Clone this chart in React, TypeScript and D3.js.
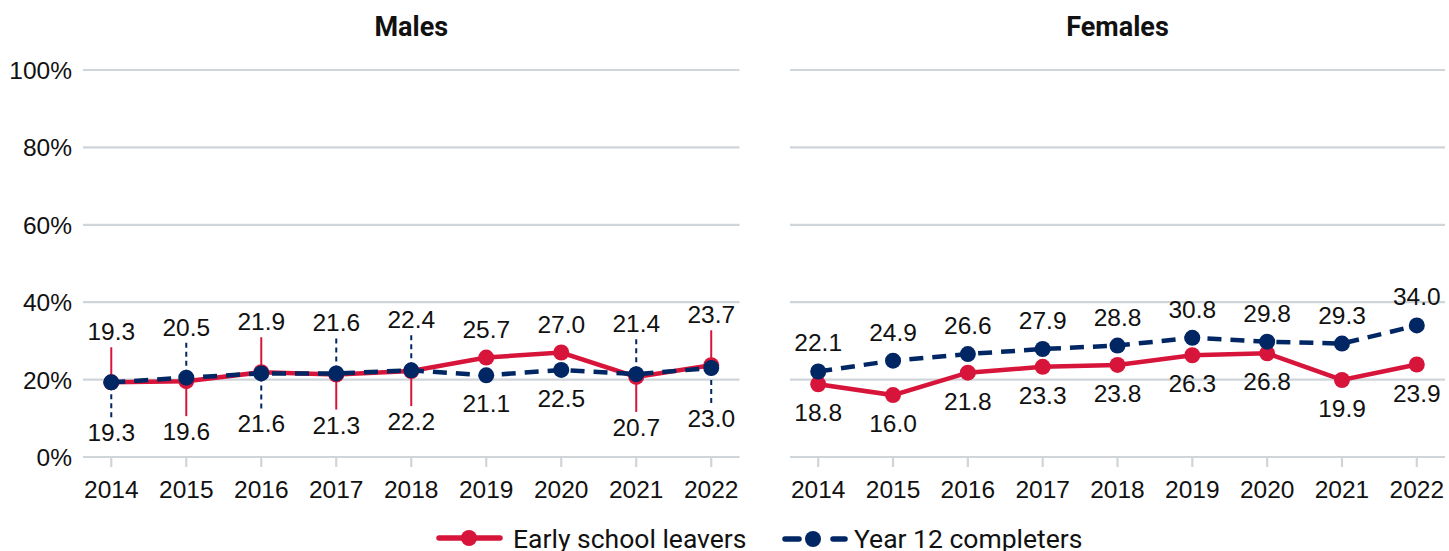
import React from "react";
import * as d3 from "d3";

const years = ["2014", "2015", "2016", "2017", "2018", "2019", "2020", "2021", "2022"];
const maleEarly = [19.3, 19.6, 21.9, 21.3, 22.2, 25.7, 27.0, 20.7, 23.7];
const maleYear12 = [19.3, 20.5, 21.6, 21.6, 22.4, 21.1, 22.5, 21.4, 23.0];
const femaleEarly = [18.8, 16.0, 21.8, 23.3, 23.8, 26.3, 26.8, 19.9, 23.9];
const femaleYear12 = [22.1, 24.9, 26.6, 27.9, 28.8, 30.8, 29.8, 29.3, 34.0];
const yTicks = [0, 20, 40, 60, 80, 100];

const RED = "#d7153a";
const NAVY = "#002664";
const GRID = "#d0d5da";
const TICKFONT = "'Liberation Sans', Arial, sans-serif";
const TITLEFONT = "Roboto, 'Noto Sans', sans-serif";

const W = 1449;
const H = 551;
const TOP = 70;
const BOTTOM = 457;
const FS = 24.5;

const y = d3.scaleLinear().domain([0, 100]).range([BOTTOM, TOP]);

type PanelProps = { title: string; x0: number; x1: number; early: number[]; y12: number[]; showY: boolean };

function Panel({ title, x0, x1, early, y12, showY }: PanelProps) {
  const x = d3.scalePoint<string>().domain(years).range([x0, x1]).padding(0.377);
  const line = d3
    .line<number>()
    .x((_, i) => x(years[i]) as number)
    .y((d) => y(d));

  const labels: React.ReactNode[] = [];
  years.forEach((yr, i) => {
    const e = early[i];
    const b = y12[i];
    const cx = x(yr) as number;
    const redAbove = e >= b;
    const close = Math.abs(e - b) < 2;
    const items = [
      { v: e, color: RED, above: redAbove, dash: undefined as string | undefined },
      { v: b, color: NAVY, above: !redAbove, dash: "5,4" },
    ];
    items.forEach((it, k) => {
      const py = y(it.v);
      const baseline = it.above ? py - (close ? 42 : 20) : py + (close ? 59 : 37);
      if (close) {
        const y1 = it.above ? baseline + 7 : baseline - 24;
        labels.push(
          <line
            key={`l-${yr}-${k}`}
            x1={cx}
            x2={cx}
            y1={y1}
            y2={py}
            stroke={it.color}
            strokeWidth={2}
            strokeDasharray={it.dash}
          />
        );
      }
      labels.push(
        <text
          key={`t-${yr}-${k}`}
          x={cx}
          y={baseline}
          textAnchor="middle"
          fontFamily={TICKFONT}
          fontSize={FS}
          fill="#111"
        >
          {it.v.toFixed(1)}
        </text>
      );
    });
  });

  return (
    <g>
      <text x={(x0 + x1) / 2} y={36} textAnchor="middle" fontFamily={TITLEFONT} fontWeight={700} fontSize={27} fill="#111">
        {title}
      </text>
      {yTicks.map((t) => (
        <g key={t}>
          <line x1={x0} x2={x1} y1={y(t)} y2={y(t)} stroke={GRID} strokeWidth={2.2} />
          {showY && (
            <text x={72} y={y(t) + 9} textAnchor="end" fontFamily={TICKFONT} fontSize={FS} fill="#111">
              {t}%
            </text>
          )}
        </g>
      ))}
      {years.map((yr) => (
        <g key={yr}>
          <line x1={x(yr)} x2={x(yr)} y1={BOTTOM} y2={BOTTOM + 10} stroke={GRID} strokeWidth={2.2} />
          <text x={x(yr)} y={498} textAnchor="middle" fontFamily={TICKFONT} fontSize={FS} fill="#111">
            {yr}
          </text>
        </g>
      ))}
      {labels}
      <path d={line(early) || ""} fill="none" stroke={RED} strokeWidth={4.5} />
      {early.map((v, i) => (
        <circle key={`e${i}`} cx={x(years[i])} cy={y(v)} r={8} fill={RED} />
      ))}
      <path d={line(y12) || ""} fill="none" stroke={NAVY} strokeWidth={4.5} strokeDasharray="14,9" />
      {y12.map((v, i) => (
        <circle key={`b${i}`} cx={x(years[i])} cy={y(v)} r={8} fill={NAVY} />
      ))}
    </g>
  );
}

export default function App() {
  return (
    <svg
      width={W}
      height={H}
      viewBox={`0 0 ${W} ${H}`}
      style={{ position: "absolute", left: 0, top: 0, background: "#fff" }}
    >
      <rect width={W} height={H} fill="#fff" />
      <Panel title="Males" x0={83} x1={739.5} early={maleEarly} y12={maleYear12} showY={true} />
      <Panel title="Females" x0={790} x1={1445} early={femaleEarly} y12={femaleYear12} showY={false} />
      <g>
        <line x1={439} x2={500} y1={538} y2={538} stroke={RED} strokeWidth={5.5} strokeLinecap="round" />
        <circle cx={469} cy={538} r={8} fill={RED} />
        <text x={513} y={547.5} fontFamily={TITLEFONT} fontSize={26.5} fill="#111">
          Early school leavers
        </text>
        <line x1={785} x2={799} y1={539} y2={539} stroke={NAVY} strokeWidth={5.5} strokeLinecap="round" />
        <line x1={833} x2={845} y1={539} y2={539} stroke={NAVY} strokeWidth={5.5} strokeLinecap="round" />
        <circle cx={813} cy={539} r={8} fill={NAVY} />
        <text x={854} y={547.5} fontFamily={TITLEFONT} fontSize={26.5} fill="#111">
          Year 12 completers
        </text>
      </g>
    </svg>
  );
}
